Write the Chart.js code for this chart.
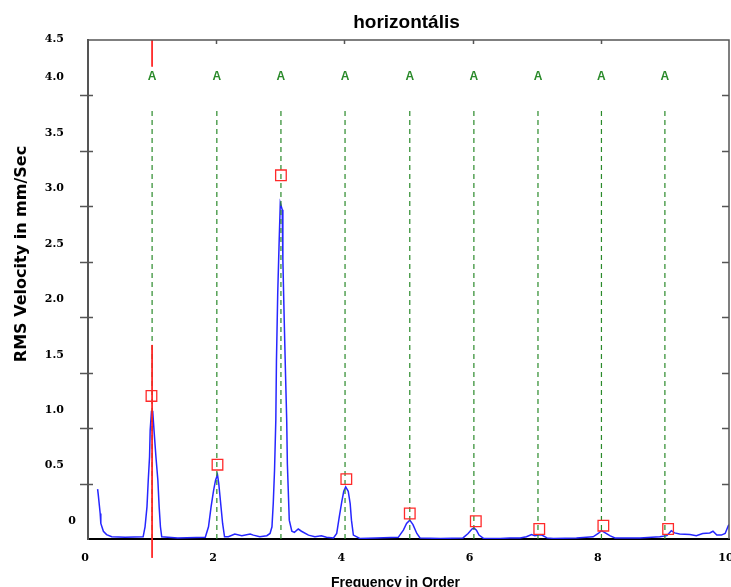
<!DOCTYPE html>
<html>
<head>
<meta charset="utf-8">
<title>horizontális</title>
<script src="https://cdn.jsdelivr.net/npm/chart.js@4/dist/chart.umd.min.js"></script>
<style>
  body { margin: 0; background: #fff; }
  canvas { display: block; }
</style>
</head>
<body>
<canvas id="chart" width="731" height="587"></canvas>
<script>
// =========================
// DATA
// =========================
const chartTitle = 'horizontális';
const xTitle = 'Frequency in Order';
const yTitle = 'RMS Velocity in mm/Sec';

// spectrum (order, mm/s)
const specX = [0.15, 0.16, 0.19, 0.20, 0.24, 0.29, 0.37, 0.58, 0.86, 0.89, 0.92, 0.94, 0.96, 0.97, 0.99, 1.01, 1.03, 1.06, 1.09, 1.11, 1.13, 1.15, 1.40,
  1.83, 1.88, 1.92, 1.96, 1.99, 2.02, 2.04, 2.07, 2.10, 2.13, 2.19, 2.29, 2.40, 2.53, 2.58, 2.68, 2.79, 2.84,
  2.87, 2.89, 2.91, 2.93, 2.94, 2.96, 2.98, 3.00, 3.01, 3.03, 3.04, 3.06, 3.08, 3.10, 3.11, 3.14, 3.18, 3.22, 3.28, 3.33, 3.44, 3.54, 3.64, 3.72,
  3.83, 3.88, 3.92, 3.96, 3.99, 4.02, 4.06, 4.09, 4.11, 4.14, 4.24, 4.50,
  4.84, 4.92, 4.97, 5.02, 5.07, 5.13, 5.18, 5.50,
  5.85, 5.93, 5.99, 6.02, 6.06, 6.10, 6.17, 6.43, 6.58, 6.74, 6.84, 6.92, 6.97, 7.03, 7.08, 7.16, 7.26, 7.62,
  7.88, 7.96, 8.01, 8.07, 8.14, 8.22, 8.61, 8.92, 9.03, 9.10, 9.15, 9.23, 9.39, 9.49, 9.59, 9.70, 9.75, 9.81, 9.88, 9.94, 9.99, 10.0];
const specY = [0.45, 0.40, 0.23, 0.14, 0.07, 0.04, 0.02, 0.015, 0.02, 0.11, 0.29, 0.53, 0.74, 0.98, 1.15, 1.15, 0.98, 0.74, 0.53, 0.29, 0.11, 0.02, 0.01,
  0.015, 0.11, 0.29, 0.44, 0.53, 0.58, 0.50, 0.32, 0.14, 0.02, 0.02, 0.045, 0.03, 0.045, 0.035, 0.02, 0.03, 0.05,
  0.11, 0.32, 0.62, 1.07, 1.61, 2.22, 2.64, 3.03, 3.03, 2.97, 2.52, 2.00, 1.52, 1.07, 0.68, 0.17, 0.07, 0.06, 0.09, 0.07, 0.035, 0.02, 0.03, 0.015,
  0.01, 0.05, 0.20, 0.34, 0.43, 0.47, 0.43, 0.32, 0.17, 0.035, 0.005, 0.01,
  0.015, 0.08, 0.14, 0.17, 0.13, 0.05, 0.01, 0.005,
  0.01, 0.05, 0.09, 0.10, 0.08, 0.035, 0.005, 0.005, 0.01, 0.01, 0.02, 0.04, 0.03, 0.035, 0.035, 0.01, 0.005, 0.01,
  0.02, 0.05, 0.075, 0.055, 0.03, 0.01, 0.01, 0.02, 0.03, 0.075, 0.055, 0.045, 0.04, 0.03, 0.05, 0.055, 0.07, 0.035, 0.035, 0.05, 0.12, 0.13];

// peak markers
const peakX = [0.99, 2.02, 3.01, 4.03, 5.02, 6.05, 7.04, 8.04, 9.05];
const peakY = [1.29, 0.67, 3.28, 0.54, 0.23, 0.16, 0.09, 0.12, 0.09];

// harmonic cursors ("A")
const harmX = [1.0, 2.01, 3.01, 4.01, 5.02, 6.02, 7.02, 8.01, 9.0];
const harmLabel = 'A';
const harmTop = 3.87;
const harmLabelY = 4.17;

// red cursor at 1x
const cursorX = 1.0;
const cursorY = [4.5, 4.26, null, 1.75, -0.17];

// axes
const xTicks = [0, 2, 4, 6, 8, 10];
const yTicks = [0, 0.5, 1.0, 1.5, 2.0, 2.5, 3.0, 3.5, 4.0, 4.5];

// =========================
// DATASETS
// =========================
const green = '#2a8a2a';

const datasets = [];

datasets.push({
  label: 'peaks',
  data: peakX.map((x, i) => ({ x, y: peakY[i] })),
  showLine: false,
  pointStyle: 'rect',
  pointRadius: 7.5,
  borderColor: '#ff2a2a',
  backgroundColor: 'rgba(0,0,0,0)',
  borderWidth: 1.3
});

datasets.push({
  label: 'cursor',
  data: cursorY.map(y => ({ x: cursorX, y })),
  showLine: true,
  spanGaps: false,
  pointRadius: 0,
  borderColor: '#ff2020',
  borderWidth: 1,
  clip: false
});

harmX.forEach(h => {
  datasets.push({
    label: 'harm',
    data: [{ x: h, y: 0 }, { x: h, y: harmTop }],
    showLine: true,
    pointRadius: 0,
    borderColor: green,
    borderWidth: 1.2,
    borderDash: [5, 4]
  });
});

datasets.push({
  label: 'spectrum',
  data: specX.map((x, i) => ({ x, y: specY[i] })),
  showLine: true,
  pointRadius: 0,
  borderColor: '#2626ff',
  borderWidth: 1.5,
  tension: 0
});

// =========================
// DECORATIONS (ticks, labels, titles)
// =========================
const decorations = {
  id: 'decorations',
  afterDraw(chart) {
    const { ctx, chartArea: a, scales: { x, y } } = chart;
    ctx.save();

    // top + right frame
    ctx.strokeStyle = '#555';
    ctx.lineWidth = 1.5;
    ctx.beginPath();
    ctx.moveTo(a.left, a.top);
    ctx.lineTo(a.right, a.top);
    ctx.lineTo(a.right, a.bottom);
    ctx.stroke();

    // y tick marks (left crossing, right inside)
    yTicks.forEach(v => {
      if (v === 0 || v === 4.5) return;
      const py = Math.round(y.getPixelForValue(v)) + 0.5;
      ctx.beginPath();
      ctx.moveTo(a.left - 8, py);
      ctx.lineTo(a.left + 5, py);
      ctx.moveTo(a.right - 7, py);
      ctx.lineTo(a.right, py);
      ctx.stroke();
    });

    // top tick marks
    xTicks.forEach(v => {
      if (v === 0 || v === 10) return;
      const px = Math.round(x.getPixelForValue(v)) + 0.5;
      ctx.beginPath();
      ctx.moveTo(px, a.top);
      ctx.lineTo(px, a.top + 4);
      ctx.stroke();
    });

    // y tick labels (sit above their tick, as in the original)
    ctx.fillStyle = '#000';
    ctx.font = 'bold 11px "DejaVu Serif"';
    ctx.textBaseline = 'middle';
    ctx.textAlign = 'right';
    yTicks.forEach(v => {
      const py = Math.max(y.getPixelForValue(v) - 18, a.top - 1);
      const lx = v === 0 ? a.left - 12 : a.left - 24;
      ctx.fillText(v === 0 ? '0' : v.toFixed(1), lx, py);
    });

    // x tick labels
    ctx.textAlign = 'center';
    xTicks.forEach(v => {
      ctx.fillText(String(v), x.getPixelForValue(v) - 3, a.bottom + 19);
    });

    // harmonic labels
    ctx.fillStyle = green;
    ctx.font = 'bold 12px "Liberation Sans"';
    harmX.forEach(h => {
      ctx.fillText(harmLabel, x.getPixelForValue(h), y.getPixelForValue(harmLabelY));
    });

    // titles
    ctx.fillStyle = '#000';
    ctx.textBaseline = 'alphabetic';
    ctx.font = 'bold 19px "Liberation Sans"';
    ctx.fillText(chartTitle, (a.left + a.right) / 2 - 2, 28);

    ctx.font = 'bold 14px "Liberation Sans"';
    ctx.fillText(xTitle, (a.left + a.right) / 2 - 13, a.bottom + 48);

    ctx.translate(26, 254);
    ctx.rotate(-Math.PI / 2);
    ctx.font = 'bold 16px "DejaVu Sans"';
    ctx.fillText(yTitle, 0, 0);

    ctx.restore();
  }
};

// =========================
// CHART
// =========================
new Chart(document.getElementById('chart').getContext('2d'), {
  type: 'scatter',
  data: { datasets },
  options: {
    responsive: false,
    animation: false,
    devicePixelRatio: 1,
    layout: { autoPadding: false, padding: { left: 88, right: 2, top: 40, bottom: 48 } },
    plugins: {
      legend: { display: false },
      tooltip: { enabled: false },
      title: { display: false }
    },
    scales: {
      x: {
        type: 'linear', min: 0, max: 10,
        ticks: { display: false },
        grid: { display: false, drawTicks: false },
        border: { display: true, color: '#000', width: 2 }
      },
      y: {
        type: 'linear', min: 0, max: 4.5,
        ticks: { display: false },
        grid: { display: false, drawTicks: false },
        border: { display: true, color: '#555', width: 2 }
      }
    }
  },
  plugins: [decorations]
});
</script>
</body>
</html>
